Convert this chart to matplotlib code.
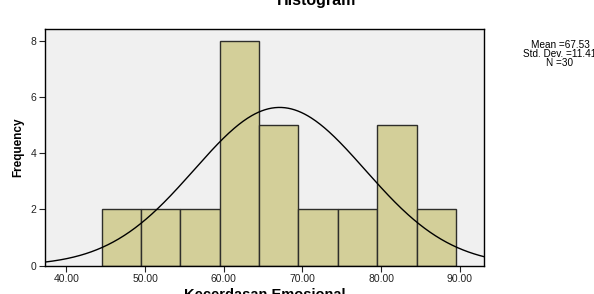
import matplotlib.pyplot as plt
import numpy as np

plt.rcParams["font.family"] = ["Liberation Sans", "DejaVu Sans"]

# histogram data (bins of width 5)
bin_edges = [44.5, 49.5, 54.5, 59.5, 64.5, 69.5, 74.5, 79.5, 84.5, 89.5]
counts = [2, 2, 2, 8, 5, 2, 2, 5, 2]

# stats printed in the legend box
mean = 67.53
std_dev = 11.41
n_cases = 30

# normal curve as drawn in the picture (centre, spread, peak height)
curve_center = 67.1
curve_sd = 10.85
curve_peak = 5.63

x_ticks = [40, 50, 60, 70, 80, 90]
y_ticks = [0, 2, 4, 6, 8]

fig = plt.figure(figsize=(5.94, 2.94), dpi=100)
ax = fig.add_axes([45 / 594, 1 - 265.7 / 294, 439 / 594, 236.7 / 294])
ax.set_facecolor("#f0f0f0")

widths = np.diff(bin_edges)
ax.bar(bin_edges[:-1], counts, width=widths, align="edge",
       color="#d3cf99", edgecolor="#2e2e2a", linewidth=1.0, zorder=2)

xlim = (37.29, 93.07)
xs = np.linspace(xlim[0], xlim[1], 400)
ys = curve_peak * np.exp(-0.5 * ((xs - curve_center) / curve_sd) ** 2)
ax.plot(xs, ys, color="black", linewidth=1.0, zorder=3)

ax.set_xlim(*xlim)
ax.set_ylim(0, 8.42)
ax.set_xticks(x_ticks)
ax.set_xticklabels([f"{t:.2f}" for t in x_ticks], fontsize=7.5)
ax.set_yticks(y_ticks)
ax.set_yticklabels([str(t) for t in y_ticks], fontsize=7.5)
ax.tick_params(direction="out", length=4, width=0.8, pad=2, colors="#222222")
for s in ax.spines.values():
    s.set_color("black")
    s.set_linewidth(1.0)

ax.set_xlabel("Kecerdasan Emosional", fontsize=10.5, fontweight="bold", labelpad=3)
ax.set_ylabel("Frequency", fontsize=8.5, fontweight="bold", labelpad=5)

fig.text(317 / 594, 1 - 1 / 294, "Histogram", ha="center", va="center",
         fontsize=11.5, fontweight="bold")

legend = f"Mean ={mean:.2f}\nStd. Dev. ={std_dev:.2f}\nN ={n_cases}"
fig.text(560 / 594, 1 - 40 / 294, legend, ha="center", va="top",
         fontsize=7.2, linespacing=0.9)

fig.savefig("out.png", dpi=100)
